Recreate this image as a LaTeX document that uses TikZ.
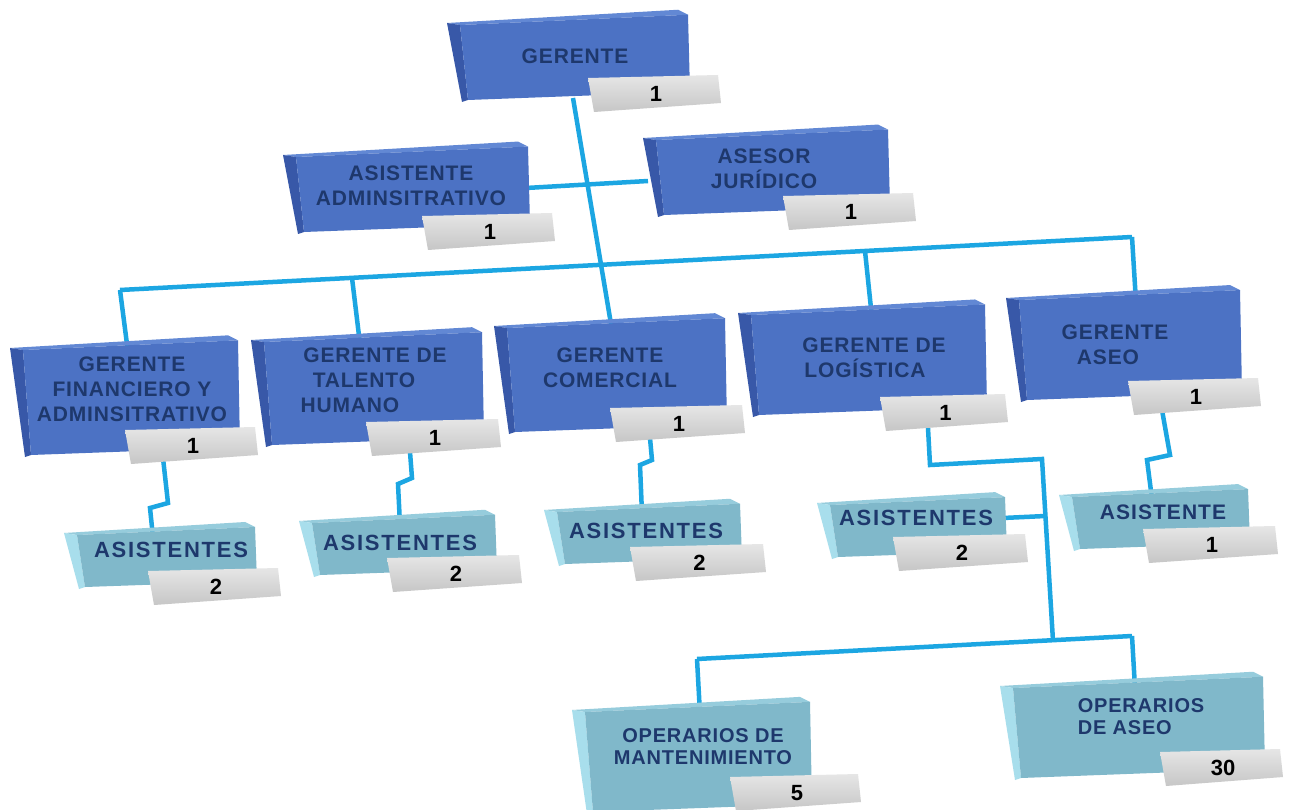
\documentclass[tikz,border=0pt]{standalone}
\usepackage{fontspec}
\setmainfont{Liberation Sans}
\newfontfamily\boxfont[LetterSpace=4]{Liberation Sans}
\newfontfamily\wideboxfont[LetterSpace=8]{Liberation Sans}
\newfontfamily\midboxfont[LetterSpace=5]{Liberation Sans}

\definecolor{boxblue}{RGB}{76,114,196}
\definecolor{boxblueside}{RGB}{56,88,168}
\definecolor{boxbluetop}{RGB}{98,136,212}
\definecolor{boxteal}{RGB}{128,184,202}
\definecolor{boxtealside}{RGB}{168,222,236}
\definecolor{boxtealtop}{RGB}{150,204,220}
\definecolor{labtop}{RGB}{230,230,230}
\definecolor{labbot}{RGB}{198,198,198}
\definecolor{navy}{RGB}{30,56,108}
\definecolor{wirecol}{RGB}{28,166,226}

% slanted block: x y width height front side top
\newcommand\slab[7]{%
  \fill[#7] (#1-13,#2-2) -- (#1+#3-10,#2-0.045*#3-5) -- (#1+#3,#2-0.045*#3) -- (#1,#2) -- cycle;
  \fill[#6] (#1-13,#2-2) -- (#1,#2) -- (#1+8,#2+#4) -- (#1+2,#2+#4+2) -- cycle;
  \fill[#5] (#1,#2) -- (#1+#3,#2-0.045*#3) -- (#1+#3+2,#2+#4-0.045*#3+2) -- (#1+8,#2+#4) -- cycle;
}
% grey count plate: name x y width text
\newcommand\countplate[5]{%
  \shade[top color=labtop,bottom color=labbot] (#2,#3) -- (#2+#4,#3-3) -- (#2+#4+3,#3+25) -- (#2+6,#3+34) -- cycle;
  \node[numtext] (#1) at (#2+#4/2+3,#3+16) {#5};
}

\begin{document}
\begin{tikzpicture}[x=1pt,y=-1pt,
  wire/.style={draw=wirecol,line width=4.5pt},
  bluetext/.style={font=\boxfont\bfseries\fontsize{21}{25}\selectfont,text=navy,align=center,inner sep=0pt},
  tealtext/.style={font=\boxfont\bfseries\fontsize{20}{22}\selectfont,text=navy,align=center,inner sep=0pt},
  widetext/.style={font=\wideboxfont\bfseries\fontsize{22}{24}\selectfont,text=navy,inner sep=0pt},
  midtext/.style={font=\midboxfont\bfseries\fontsize{21}{24}\selectfont,text=navy,inner sep=0pt},
  numtext/.style={font=\bfseries\fontsize{22}{24}\selectfont,text=black,inner sep=0pt}]

\fill[white] (0,0) rectangle (1298,810);
\useasboundingbox (0,0) rectangle (1298,810);

% ---------- connectors ----------
\coordinate (g-out) at (573,98);
\coordinate (com-in) at (612,330);
\draw[wire] (g-out) -- (com-in);
\coordinate (adm-out) at (526,188);
\coordinate (ase-in) at (648,181);
\draw[wire] (adm-out) -- (ase-in);

\coordinate (bus-l) at (120,290);
\coordinate (bus-tal) at (352,277.8);
\coordinate (bus-log) at (865,251);
\coordinate (bus-r) at (1132,237);
\draw[wire] (bus-l) -- (bus-r);
\coordinate (fin-in) at (128,352);
\coordinate (tal-in) at (360,344);
\coordinate (log-in) at (872,318);
\coordinate (aseo-in) at (1136,302);
\draw[wire] (bus-l) -- (fin-in);
\draw[wire] (bus-tal) -- (tal-in);
\draw[wire] (bus-log) -- (log-in);
\draw[wire] (bus-r) -- (aseo-in);

\coordinate (fin-out) at (163,458);
\coordinate (as1-in) at (153,537);
\draw[wire] (fin-out) -- (168,503) -- (150,508) -- (as1-in);
\coordinate (tal-out) at (410,452);
\coordinate (as2-in) at (400,525);
\draw[wire] (tal-out) -- (412,478) -- (398,484) -- (as2-in);
\coordinate (com-out) at (650,438);
\coordinate (as3-in) at (642,514);
\draw[wire] (com-out) -- (652,460) -- (640,465) -- (as3-in);
\coordinate (aseo-out) at (1162,410);
\coordinate (as5-in) at (1152,499);
\draw[wire] (aseo-out) -- (1170,455) -- (1147,460) -- (as5-in);

\coordinate (log-out) at (928,428);
\coordinate (log-bend) at (1042,459);
\coordinate (low-bus) at (1053,641);
\draw[wire] (log-out) -- (930,465) -- (log-bend) -- (low-bus);
\coordinate (as4-out) at (1003,518);
\coordinate (as4-join) at (1045.4,516);
\draw[wire] (as4-out) -- (as4-join);
\coordinate (low-l) at (697,659);
\coordinate (low-r) at (1132,636);
\draw[wire] (low-l) -- (low-r);
\coordinate (man-in) at (700,714);
\coordinate (opa-in) at (1135,688);
\draw[wire] (low-l) -- (man-in);
\draw[wire] (low-r) -- (opa-in);

% ---------- blue blocks ----------
\slab{460}{25}{228}{75}{boxblue}{boxblueside}{boxbluetop}
\node[bluetext] (t-ger) at (575,56) {GERENTE};
\countplate{n-ger}{588}{78}{130}{1}

\slab{296}{157}{232}{75}{boxblue}{boxblueside}{boxbluetop}
\node[bluetext] (t-adm) at (411,186) {ASISTENTE\\ADMINSITRATIVO};
\countplate{n-adm}{422}{216}{130}{1}

\slab{656}{140}{232}{75}{boxblue}{boxblueside}{boxbluetop}
\node[bluetext] (t-ase) at (764,169) {ASESOR\\JURÍDICO};
\countplate{n-ase}{783}{196}{130}{1}

\slab{23}{350}{215}{105}{boxblue}{boxblueside}{boxbluetop}
\node[bluetext] (t-fin) at (132,389) {GERENTE\\FINANCIERO Y\\ADMINSITRATIVO};
\countplate{n-fin}{125}{430}{130}{1}

\slab{264}{342}{218}{103}{boxblue}{boxblueside}{boxbluetop}
\node[bluetext] (t-tal) at (375,380) {GERENTE DE\\\hspace*{-22pt}TALENTO\\\hspace*{-50pt}HUMANO};
\countplate{n-tal}{366}{422}{132}{1}

\slab{507}{328}{218}{104}{boxblue}{boxblueside}{boxbluetop}
\node[bluetext] (t-com) at (610,368) {GERENTE\\COMERCIAL};
\countplate{n-com}{610}{408}{132}{1}

\slab{751}{315}{234}{100}{boxblue}{boxblueside}{boxbluetop}
\node[bluetext] (t-log) at (874,358) {GERENTE DE\\\hspace*{-18pt}LOGÍSTICA};
\countplate{n-log}{880}{397}{125}{1}

\slab{1019}{300}{221}{100}{boxblue}{boxblueside}{boxbluetop}
\node[bluetext] (t-aseo) at (1115,345) {GERENTE\\\hspace*{-14pt}ASEO};
\countplate{n-aseo}{1128}{381}{130}{1}

% ---------- teal blocks ----------
\slab{77}{535}{178}{52}{boxteal}{boxtealside}{boxtealtop}
\node[widetext] (t-as1) at (171,550) {ASISTENTES};
\countplate{n-as1}{148}{571}{130}{2}

\slab{312}{523}{183}{52}{boxteal}{boxtealside}{boxtealtop}
\node[widetext] (t-as2) at (400,543) {ASISTENTES};
\countplate{n-as2}{387}{558}{132}{2}

\slab{557}{512}{183}{52}{boxteal}{boxtealside}{boxtealtop}
\node[widetext] (t-as3) at (646,531) {ASISTENTES};
\countplate{n-as3}{630}{547}{133}{2}

\slab{830}{505}{175}{52}{boxteal}{boxtealside}{boxtealtop}
\node[widetext] (t-as4) at (916,518) {ASISTENTES};
\countplate{n-as4}{893}{537}{132}{2}

\slab{1072}{497}{176}{52}{boxteal}{boxtealside}{boxtealtop}
\node[midtext] (t-as5) at (1163,512) {ASISTENTE};
\countplate{n-as5}{1143}{529}{132}{1}

\slab{585}{712}{225}{100}{boxteal}{boxtealside}{boxtealtop}
\node[tealtext] (t-man) at (703,747) {OPERARIOS DE\\MANTENIMIENTO};
\countplate{n-man}{730}{777}{128}{5}

\slab{1013}{688}{250}{90}{boxteal}{boxtealside}{boxtealtop}
\node[tealtext,align=left] (t-opa) at (1141,717) {OPERARIOS\\DE ASEO};
\countplate{n-opa}{1160}{752}{120}{30}

\end{tikzpicture}
\end{document}
